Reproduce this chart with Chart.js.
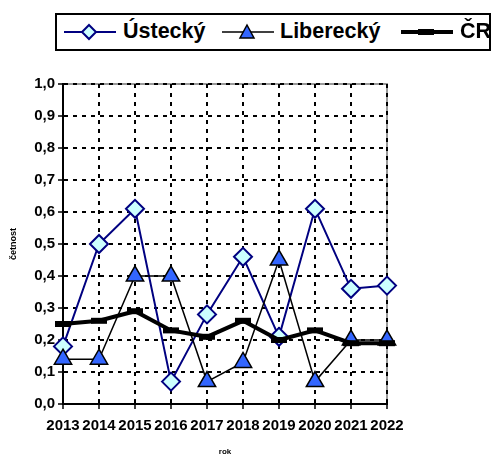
<!DOCTYPE html>
<html>
<head>
<meta charset="utf-8">
<script src="https://cdn.jsdelivr.net/npm/chart.js@4/dist/chart.umd.min.js"></script>
<style>
html,body{margin:0;padding:0;background:#fff;}
#wrap{position:relative;width:495px;height:455px;}
#legend{position:absolute;left:55px;top:13px;width:432px;height:34px;border:2px solid #000;background:#fff;font-family:"Liberation Sans",Arial,sans-serif;font-weight:bold;font-size:21.5px;}
#legend .t{position:absolute;top:4px;line-height:24px;white-space:nowrap;}
#legend svg{position:absolute;top:0;}
</style>
</head>
<body>
<div id="wrap">
<canvas id="c" width="495" height="455"></canvas>
<div id="legend">
  <svg style="left:6px" width="54" height="34"><line x1="1" y1="17" x2="53" y2="17" stroke="#000080" stroke-width="2"/><polygon points="26,10 33,17 26,24 19,17" fill="#ccffff" stroke="#000080" stroke-width="2"/></svg>
  <span class="t" style="left:66px">Ústecký</span>
  <svg style="left:164px" width="54" height="34"><line x1="1" y1="17" x2="53" y2="17" stroke="#000" stroke-width="1.5"/><polygon points="26,10 33,23 19,23" fill="#3366ff" stroke="#000" stroke-width="1.5"/></svg>
  <span class="t" style="left:223px">Liberecký</span>
  <svg style="left:343px" width="54" height="34"><line x1="1" y1="17" x2="53" y2="17" stroke="#000" stroke-width="4"/><line x1="18" y1="17" x2="34" y2="17" stroke="#000" stroke-width="6"/></svg>
  <span class="t" style="left:403px">ČR</span>
</div>
</div>
<script>
const categories = ['2013','2014','2015','2016','2017','2018','2019','2020','2021','2022'];
const usteckyValues = [0.18, 0.50, 0.61, 0.07, 0.28, 0.46, 0.21, 0.61, 0.36, 0.37];
const libereckyValues = [0.14, 0.14, 0.40, 0.40, 0.07, 0.13, 0.45, 0.07, 0.20, 0.20];
const crValues = [0.25, 0.26, 0.29, 0.23, 0.21, 0.26, 0.20, 0.23, 0.19, 0.19];
const yTicks = [0,0.1,0.2,0.3,0.4,0.5,0.6,0.7,0.8,0.9,1.0];
const seriesNames = ['Ústecký','Liberecký','ČR'];

const frame = {
  id:'frame',
  beforeDraw(chart){
    const {ctx, chartArea:a} = chart;
    ctx.save();
    ctx.strokeStyle = '#999';
    ctx.lineWidth = 2;
    ctx.beginPath();
    ctx.moveTo(a.left, a.top); ctx.lineTo(a.right, a.top); ctx.lineTo(a.right, a.bottom);
    ctx.stroke();
    ctx.restore();
  }
};

const tickFont = {family:'"Liberation Sans", Arial, sans-serif', weight:'bold', size:15};

new Chart(document.getElementById('c'), {
  type:'line',
  data:{
    labels: categories,
    datasets:[
      {label:seriesNames[0], data:usteckyValues, borderColor:'#000080', borderWidth:2, pointStyle:'rectRot', pointRadius:9, pointBackgroundColor:'#ccffff', pointBorderColor:'#000080', pointBorderWidth:2, tension:0, order:3, clip:false},
      {label:seriesNames[1], data:libereckyValues, borderColor:'#000', borderWidth:1.5, pointStyle:'triangle', pointRadius:10, pointBackgroundColor:'#3366ff', pointBorderColor:'#000', pointBorderWidth:1.5, tension:0, order:2, clip:false},
      {label:seriesNames[2], data:crValues, borderColor:'#000', borderWidth:4, pointStyle:'line', pointRadius:8, pointBorderColor:'#000', pointBorderWidth:6, tension:0, order:1, clip:false}
    ]
  },
  options:{
    responsive:false,
    animation:false,
    devicePixelRatio:1,
    layout:{padding:{top:84,right:108,left:0,bottom:0}},
    plugins:{legend:{display:false}, tooltip:{enabled:false}},
    scales:{
      x:{
        offset:false,
        grid:{color:'#000', lineWidth:2, tickLength:5, tickColor:'#000', tickWidth:1.5},
        border:{display:true, color:'#000', width:2, dash:[4,5]},
        ticks:{color:'#000', font:tickFont, maxRotation:0, autoSkip:false, padding:8},
        title:{display:true, text:'rok', color:'#000', font:{family:'"Liberation Sans", Arial, sans-serif', weight:'bold', size:8}, padding:{top:0,bottom:-2}},
        afterFit(s){ s.height = 51; }
      },
      y:{
        min:0, max:1,
        afterBuildTicks(s){ s.ticks = yTicks.map(v=>({value:v})); },
        grid:{color:'#000', lineWidth:2, tickLength:5, tickColor:'#000', tickWidth:1.5},
        border:{display:true, color:'#000', width:2, dash:[4,5]},
        ticks:{color:'#000', font:tickFont, padding:3, callback:(v)=>v.toFixed(1).replace('.',',')},
        title:{display:true, text:'četnost', color:'#000', font:{family:'"Liberation Sans", Arial, sans-serif', weight:'bold', size:9}, padding:{top:8,bottom:0}},
        afterFit(s){ s.width = 63; }
      }
    }
  },
  plugins:[frame]
});
</script>
</body>
</html>
